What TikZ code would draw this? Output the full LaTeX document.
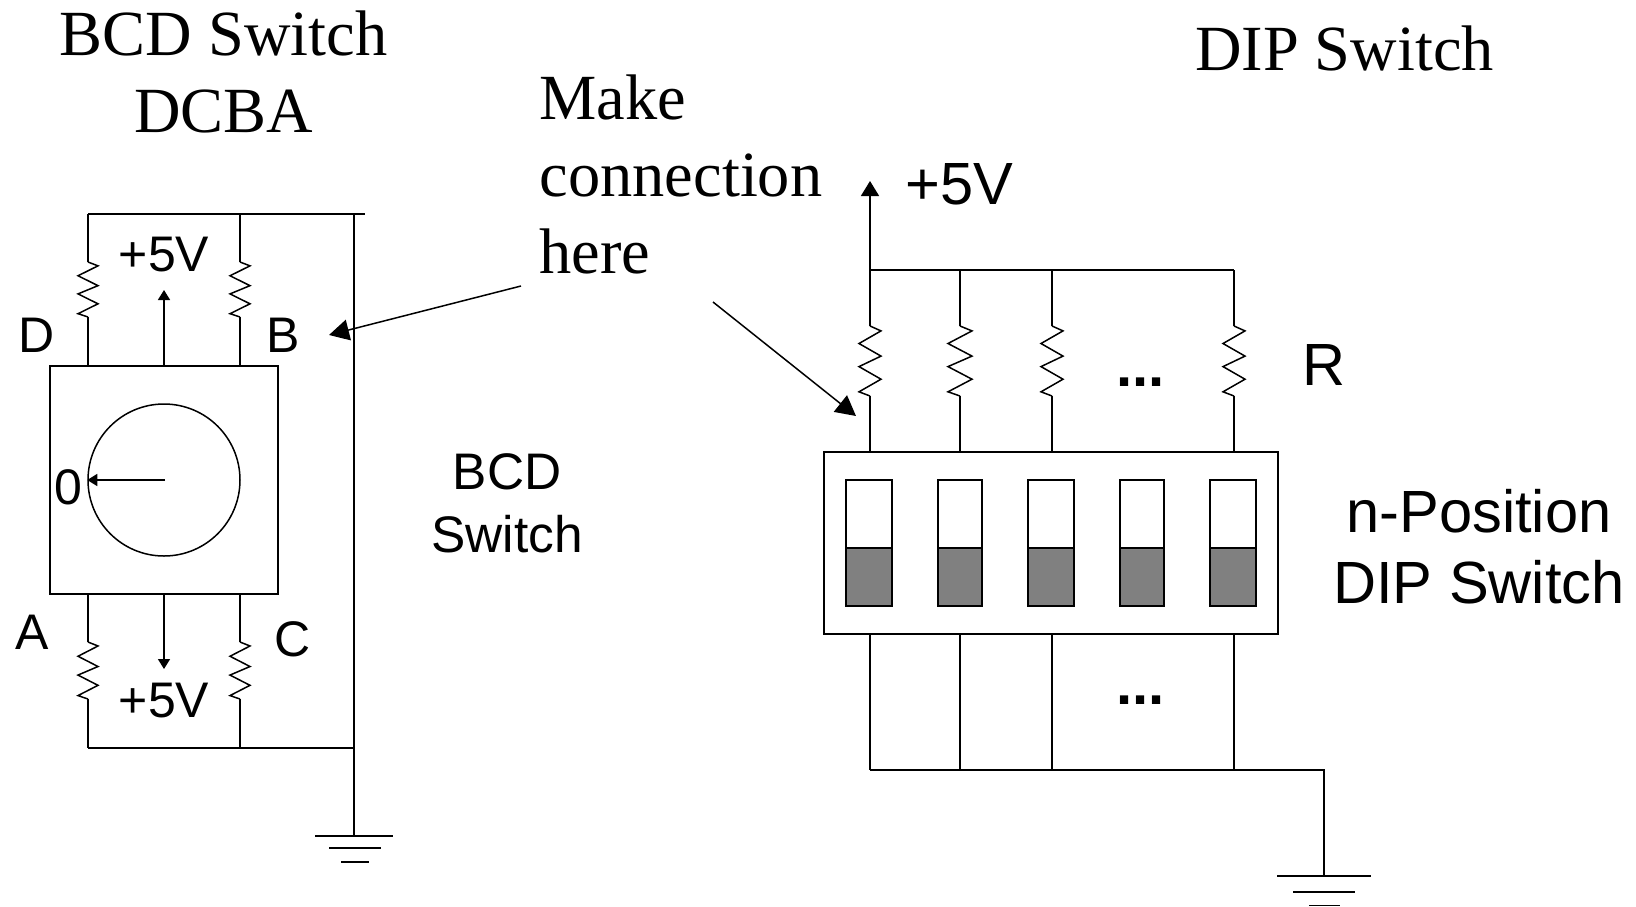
\documentclass[tikz,border=0pt]{standalone}
\usepackage{fontspec}
\setmainfont{Liberation Serif}
\setsansfont{Liberation Sans}
\usetikzlibrary{calc,arrows.meta}
\def\resistor[#1](#2)(#3){\draw (#2) -- ($(#2)!0.07!(#3)+(#1,0)$) -- ($(#2)!0.25!(#3)-(#1,0)$) -- ($(#2)!0.43!(#3)+(#1,0)$) -- ($(#2)!0.58!(#3)-(#1,0)$) -- ($(#2)!0.76!(#3)+(#1,0)$) -- ($(#2)!0.94!(#3)-(#1,0)$) -- (#3);}
\tikzset{
	wire/.style={line width=1.5pt},
	seriftext/.style={inner sep=0pt, font=\rmfamily\fontsize{64.4}{77}\selectfont},
	bigtext/.style={inner sep=0pt, font=\sffamily\fontsize{59.6}{71}\selectfont},
	smalltext/.style={inner sep=0pt, font=\sffamily\fontsize{50}{60}\selectfont},
	dotstext/.style={inner sep=0pt, font=\sffamily\bfseries\fontsize{58}{70}\selectfont},
	swbox/.style={draw, wire, fill=white},
	swlever/.style={draw, wire, fill=black!50},
	smalltip/.style={-{Triangle[length=10pt,width=12pt]}},
	midtip/.style={-{Triangle[length=15pt,width=18pt]}},
	bigtip/.style={-{Triangle[length=20pt,width=21pt]}}
}

\begin{document}
\begin{tikzpicture}[x=1pt, y=-1pt, wire]
	\useasboundingbox (0,0) rectangle (1636,906);
	%%%%% BCD SWITCH %%%%%
	
	\node[seriftext, align=center, anchor=center] (bcdtitle) at (223.5,72) {BCD Switch\\DCBA};
	
	\node[draw, wire, minimum width=228pt, minimum height=228pt, inner sep=0pt] (bcdbox) at (164,480) {};
	\node[draw, wire, circle, minimum size=152pt, inner sep=0pt] (dial) at (164,480) {};
	\coordinate (dialc) at (165,480);
	\draw[smalltip] (dialc) -- (dial.west);
	
	\coordinate (lefttop) at (88,214);
	\coordinate (midtop) at (240,214);
	\coordinate (railtop) at (354,214);
	\coordinate (topend) at (365,214);
	\coordinate (leftbot) at (88,748);
	\coordinate (midbot) at (240,748);
	\coordinate (railbot) at (354,748);
	\coordinate (railgnd) at (354,836);
	
	\draw (lefttop) -- (topend);
	\draw (railtop) -- (railgnd);
	\draw (leftbot) -- (railbot);
	
	% upper resistors
	\coordinate (rd1) at (88,262);
	\coordinate (rd2) at (88,317);
	\coordinate (rb1) at (240,262);
	\coordinate (rb2) at (240,317);
	\draw (lefttop) -- (rd1);
	\resistor[10](rd1)(rd2);
	\draw (rd2) -- (bcdbox.north -| rd2);
	\draw (midtop) -- (rb1);
	\resistor[10](rb1)(rb2);
	\draw (rb2) -- (bcdbox.north -| rb2);
	
	% lower resistors
	\coordinate (ra1) at (88,642);
	\coordinate (ra2) at (88,699);
	\coordinate (rc1) at (240,642);
	\coordinate (rc2) at (240,699);
	\draw (bcdbox.south -| ra1) -- (ra1);
	\resistor[10](ra1)(ra2);
	\draw (ra2) -- (leftbot);
	\draw (bcdbox.south -| rc1) -- (rc1);
	\resistor[10](rc1)(rc2);
	\draw (rc2) -- (midbot);
	
	\coordinate (uparrow) at (164,290);
	\coordinate (downarrow) at (164,669);
	\draw[smalltip] (bcdbox.north) -- (uparrow);
	\draw[smalltip] (bcdbox.south) -- (downarrow);
	
	\coordinate (gnda1) at (315,836);
	\coordinate (gnda2) at (393,836);
	\coordinate (gndb1) at (329,848);
	\coordinate (gndb2) at (381,848);
	\coordinate (gndc1) at (341,862);
	\coordinate (gndc2) at (369,862);
	\draw (gnda1) -- (gnda2);
	\draw (gndb1) -- (gndb2);
	\draw (gndc1) -- (gndc2);
	
	\node[smalltext, anchor=base] (vtop) at (164,271) {+5V};
	\node[smalltext, anchor=base] (vbot) at (164,717) {+5V};
	\node[smalltext, anchor=base west] (labd) at (18,352) {D};
	\node[smalltext, anchor=base west] (labb) at (266,352) {B};
	\node[smalltext, anchor=base west] (laba) at (14.5,649) {A};
	\node[smalltext, anchor=base west] (labc) at (274,656) {C};
	\node[smalltext, anchor=base west] (labzero) at (54,504) {0};
	\node[inner sep=0pt, font=\sffamily\fontsize{51.4}{63}\selectfont, align=center, anchor=center] (bcdlabel) at (507,503.5) {BCD\\Switch};
	
	%%%%% CALLOUT %%%%%
	
	\node[seriftext, align=left, anchor=center] (callout) at (681,174.5) {Make\\connection\\here};
	\coordinate (calla) at (521,286);
	\coordinate (callb) at (329,335);
	\coordinate (callc) at (713,302);
	\coordinate (calld) at (856,416);
	\draw[bigtip] (calla) -- (callb);
	\draw[bigtip] (callc) -- (calld);
	
	%%%%% DIP SWITCH %%%%%
	
	\node[seriftext, anchor=base] (diptitle) at (1344.5,70) {DIP Switch};
	\node[draw, wire, minimum width=454pt, minimum height=182pt, inner sep=0pt] (dipbox) at (1051,543) {};
	
	\coordinate (wa) at (870,270);
	\coordinate (wb) at (960,270);
	\coordinate (wc) at (1052,270);
	\coordinate (wd) at (1234,270);
	\coordinate (va) at (870,181);
	\draw[midtip] (wa) -- (va);
	\draw (wa) -- (wd);
	
	\coordinate (ra) at (870,326);
	\coordinate (rb) at (960,326);
	\coordinate (rc) at (1052,326);
	\coordinate (rd) at (1234,326);
	\coordinate (sa) at (870,396);
	\coordinate (sb) at (960,396);
	\coordinate (sc) at (1052,396);
	\coordinate (sd) at (1234,396);
	
	\draw (wa) -- (ra);
	\resistor[11](ra)(sa);
	\draw (sa) -- (dipbox.north -| sa);
	\draw (wb) -- (rb);
	\resistor[12](rb)(sb);
	\draw (sb) -- (dipbox.north -| sb);
	\draw (wc) -- (rc);
	\resistor[11](rc)(sc);
	\draw (sc) -- (dipbox.north -| sc);
	\draw (wd) -- (rd);
	\resistor[11](rd)(sd);
	\draw (sd) -- (dipbox.north -| sd);
	
	\draw[swbox] (846,480) rectangle (892,548);
	\draw[swlever] (846,548) rectangle (892,606);
	\draw[swbox] (938,480) rectangle (982,548);
	\draw[swlever] (938,548) rectangle (982,606);
	\draw[swbox] (1028,480) rectangle (1074,548);
	\draw[swlever] (1028,548) rectangle (1074,606);
	\draw[swbox] (1120,480) rectangle (1164,548);
	\draw[swlever] (1120,548) rectangle (1164,606);
	\draw[swbox] (1210,480) rectangle (1256,548);
	\draw[swlever] (1210,548) rectangle (1256,606);
	
	\coordinate (ba) at (870,770);
	\coordinate (bb) at (960,770);
	\coordinate (bc) at (1052,770);
	\coordinate (bd) at (1234,770);
	\coordinate (be) at (1324,770);
	\coordinate (bgnd) at (1324,876);
	\draw (dipbox.south -| ba) -- (ba);
	\draw (dipbox.south -| bb) -- (bb);
	\draw (dipbox.south -| bc) -- (bc);
	\draw (dipbox.south -| bd) -- (bd);
	\draw (ba) -- (be) -- (bgnd);
	
	\coordinate (gndd1) at (1277,876);
	\coordinate (gndd2) at (1371,876);
	\coordinate (gnde1) at (1293,892);
	\coordinate (gnde2) at (1355,892);
	\coordinate (gndf1) at (1309,905.5);
	\coordinate (gndf2) at (1340,905.5);
	\draw (gndd1) -- (gndd2);
	\draw (gnde1) -- (gnde2);
	\draw (gndf1) -- (gndf2);
	
	\node[bigtext, anchor=base west] (vdip) at (905,204) {+5V};
	\node[bigtext, anchor=base west] (labr) at (1302,385) {R};
	\node[dotstext, anchor=base west] (dotstop) at (1115.5,386) {...};
	\node[dotstext, anchor=base west] (dotsbot) at (1115.5,704) {...};
	\node[bigtext, align=center, anchor=center] (diplabel) at (1479,546.5) {n-Position\\DIP Switch};
	
	%%%%% END %%%%%
\end{tikzpicture}
\end{document}
